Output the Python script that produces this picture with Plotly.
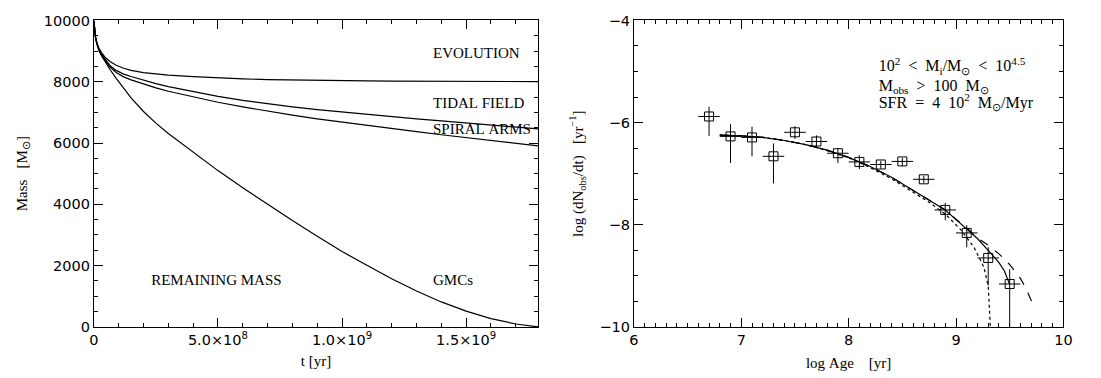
import plotly.graph_objects as go

# ---------------- left panel: remaining cluster mass vs time ----------------
t_yr = [0, 3e6, 7e6, 1.2e7, 2e7, 3e7, 4.5e7, 6.5e7, 9e7, 1.2e8, 1.5e8, 2e8, 2.5e8,
        3e8, 4e8, 5e8, 6e8, 7e8, 8e8, 9e8, 1.0e9, 1.1e9, 1.2e9, 1.3e9, 1.4e9,
        1.5e9, 1.6e9, 1.7e9, 1.79e9]

mass_evolution = [10000, 9700, 9450, 9280, 9100, 8960, 8800, 8660, 8540, 8440, 8370,
                  8295, 8250, 8215, 8165, 8125, 8095, 8070, 8055, 8042, 8035, 8028,
                  8022, 8018, 8014, 8011, 8008, 8006, 8005]
mass_tidal = [10000, 9700, 9440, 9260, 9070, 8910, 8730, 8530, 8370, 8250, 8170,
              8050, 7940, 7840, 7670, 7520, 7390, 7280, 7180, 7090, 7010, 6930,
              6860, 6790, 6720, 6650, 6590, 6520, 6460]
mass_spiral = [10000, 9700, 9430, 9250, 9050, 8880, 8690, 8480, 8300, 8160, 8060,
               7920, 7800, 7690, 7500, 7330, 7180, 7040, 6910, 6790, 6680, 6570,
               6470, 6370, 6270, 6170, 6080, 5990, 5905]
mass_gmc = [10000, 9700, 9420, 9230, 9030, 8860, 8660, 8400, 8110, 7770, 7470,
            7030, 6650, 6310, 5690, 5100, 4540, 3995, 3470, 2960, 2460, 2010,
            1570, 1170, 815, 515, 270, 95, 0]

left_xticks = [0, 5e8, 1e9, 1.5e9]
left_xticklabels = ["0", "5.0\u00d710<sup>8</sup>", "1.0\u00d710<sup>9</sup>",
                    "1.5\u00d710<sup>9</sup>"]
left_yticks = [0, 2000, 4000, 6000, 8000, 10000]
left_yticklabels = ["0", "2000", "4000", "6000", "8000", "10000"]

# ---------------- right panel: observed cluster formation rate vs age ----------------
log_age = [6.7, 6.9, 7.1, 7.3, 7.5, 7.7, 7.9, 8.1, 8.3, 8.5, 8.7, 8.9, 9.1, 9.3, 9.5]
log_rate = [-5.88, -6.27, -6.29, -6.66, -6.19, -6.37, -6.60, -6.77, -6.82, -6.76,
            -7.11, -7.71, -8.16, -8.65, -9.16]
err_up = [0.19, 0.24, 0.21, 0.25, 0.12, 0.12, 0.10, 0.13, 0.07, 0.07, 0.07, 0.14,
          0.15, 0.21, 0.29]
err_down = [0.38, 0.52, 0.37, 0.53, 0.13, 0.12, 0.19, 0.14, 0.08, 0.09, 0.07, 0.20,
            0.28, 0.54, 0.84]
bin_half = [0.1] * 15

model_x = [6.8, 7.0, 7.2, 7.4, 7.6, 7.8, 8.0, 8.2, 8.4, 8.6, 8.8, 8.9, 9.0, 9.1,
           9.2, 9.3, 9.4, 9.45, 9.5]
model_solid = [-6.245, -6.26, -6.29, -6.35, -6.43, -6.54, -6.68, -6.86, -7.07, -7.33,
               -7.58, -7.71, -7.90, -8.08, -8.27, -8.50, -8.74, -8.90, -9.17]

dashed_x = [6.8, 7.0, 7.2, 7.4, 7.6, 7.8, 8.0, 8.2, 8.4, 8.6, 8.8, 8.9, 9.0, 9.1,
            9.2, 9.3, 9.4, 9.5, 9.6, 9.65, 9.7, 9.71]
model_dashed = [-6.245, -6.26, -6.29, -6.35, -6.43, -6.54, -6.68, -6.86, -7.07, -7.33,
                -7.58, -7.71, -7.89, -8.06, -8.26, -8.40, -8.57, -8.78, -9.05, -9.24,
                -9.48, -9.54]

dotted_x = [6.8, 7.0, 7.2, 7.4, 7.6, 7.8, 8.0, 8.2, 8.4, 8.6, 8.75, 8.9, 9.05, 9.17,
            9.26, 9.30, 9.31, 9.32]
model_dotted = [-6.245, -6.26, -6.29, -6.35, -6.43, -6.55, -6.69, -6.88, -7.10, -7.36,
                -7.56, -7.79, -8.11, -8.45, -8.83, -9.20, -9.58, -10.0]

right_xticks = [6, 7, 8, 9, 10]
right_yticks = [-10, -8, -6, -4]

SERIF = "Liberation Serif"
SANS = "DejaVu Sans"
W, H = 1101, 378
NB = "\u00a0"
serif15 = dict(family=SERIF, size=15, color="black")
serif16 = dict(family=SERIF, size=16, color="black")

fig = go.Figure()

for m in (mass_evolution, mass_tidal, mass_spiral, mass_gmc):
    fig.add_trace(go.Scatter(x=t_yr, y=m, mode="lines",
                             line=dict(color="black", width=1.2),
                             xaxis="x", yaxis="y", showlegend=False))

fig.add_trace(go.Scatter(x=dotted_x, y=model_dotted, mode="lines",
                         line=dict(color="black", width=1.2, dash="dot"),
                         xaxis="x2", yaxis="y2", showlegend=False))
fig.add_trace(go.Scatter(x=dashed_x, y=model_dashed, mode="lines",
                         line=dict(color="black", width=1.2, dash="dash"),
                         xaxis="x2", yaxis="y2", showlegend=False))
fig.add_trace(go.Scatter(x=model_x, y=model_solid, mode="lines",
                         line=dict(color="black", width=1.2),
                         xaxis="x2", yaxis="y2", showlegend=False))

# error bars: age-bin width horizontally, asymmetric uncertainty vertically
ex, ey = [], []
for a, r, h, up, dn in zip(log_age, log_rate, bin_half, err_up, err_down):
    ex += [a - h, a + h, None, a, a, None]
    ey += [r, r, None, r + up, r - dn, None]
fig.add_trace(go.Scatter(x=ex, y=ey, mode="lines", line=dict(color="black", width=1),
                         xaxis="x2", yaxis="y2", showlegend=False))
fig.add_trace(go.Scatter(
    x=log_age, y=log_rate, mode="markers",
    marker=dict(symbol="square-open", size=9, color="black", line=dict(width=1, color="black")),
    xaxis="x2", yaxis="y2", showlegend=False))

# curve labels (left panel) as text marks
fig.add_trace(go.Scatter(
    x=[1.3665e9, 1.3665e9, 1.3665e9, 0.231e9, 1.3665e9],
    y=[8906, 7250, 6406, 1500, 1500],
    text=["EVOLUTION", "TIDAL" + NB + "FIELD", "SPIRAL" + NB + "ARMS",
          "REMAINING" + NB + "MASS", "GMCs"],
    mode="text", textposition="middle right", textfont=serif15, cliponaxis=False,
    xaxis="x", yaxis="y", showlegend=False, hoverinfo="skip"))

# sample description (right panel)
fig.add_trace(go.Scatter(
    x=[8.28, 8.28, 8.28], y=[-4.92, -5.30, -5.63],
    text=["10<sup>2</sup>" + NB * 2 + "&lt;" + NB * 2 + "M<sub>i</sub>/M<sub>\u2299</sub>"
          + NB * 2 + "&lt;" + NB * 2 + "10<sup>4.5</sup>",
          "M<sub>obs</sub>" + NB * 2 + "&gt;" + NB * 2 + "100" + NB * 2 + "M<sub>\u2299</sub>",
          "SFR" + NB * 2 + "=" + NB * 2 + "4" + NB * 2 + "10<sup>2</sup>" + NB * 2
          + "M<sub>\u2299</sub>/Myr"],
    mode="text", textposition="middle right", textfont=serif16, cliponaxis=False,
    xaxis="x2", yaxis="y2", showlegend=False, hoverinfo="skip"))

tickfont = dict(family=SANS, size=14.5, color="black")

x_dom_l = [90 / W, 540 / W]
x_dom_r = [637 / W, 1072 / W]
y_dom = [1 - 333 / H, 1 - 13 / H]


def axis(**kw):
    base = dict(showline=True, linecolor="black", linewidth=1, mirror="ticks",
                ticks="inside", tickcolor="black", tickwidth=1, ticklen=9,
                showgrid=False, zeroline=False, tickfont=tickfont)
    base.update(kw)
    return base


def minor(step):
    return dict(dtick=step, ticks="inside", ticklen=4, tickcolor="black")


fig.update_layout(
    template="simple_white", showlegend=False,
    width=W, height=H, margin=dict(l=0, r=0, t=0, b=0),
    xaxis=axis(domain=x_dom_l, range=[0, 1.79e9], tickvals=left_xticks,
               ticktext=left_xticklabels, anchor="y", minor=minor(1e8),
               title=dict(text="t" + NB + "[yr]", font=serif15, standoff=8)),
    yaxis=axis(domain=y_dom, range=[0, 10000], tickvals=left_yticks,
               ticktext=left_yticklabels, anchor="x", minor=minor(500),
               title=dict(text="Mass" + NB * 3 + "[M<sub>\u2299</sub>]", font=serif15,
                          standoff=12)),
    xaxis2=axis(domain=x_dom_r, range=[6, 10], tickvals=right_xticks,
                anchor="y2", minor=minor(0.1),
                title=dict(text="log" + NB + "Age" + NB * 4 + "[yr]", font=serif15,
                           standoff=10)),
    yaxis2=axis(domain=y_dom, range=[-10, -4], tickvals=right_yticks,
                anchor="x2", minor=minor(0.5),
                title=dict(text="log" + NB + "(dN<sub>obs</sub>/dt)" + NB * 3
                           + "[yr<sup>\u22121</sup>]", font=serif15, standoff=12)),
)

fig.write_html("out.html")
